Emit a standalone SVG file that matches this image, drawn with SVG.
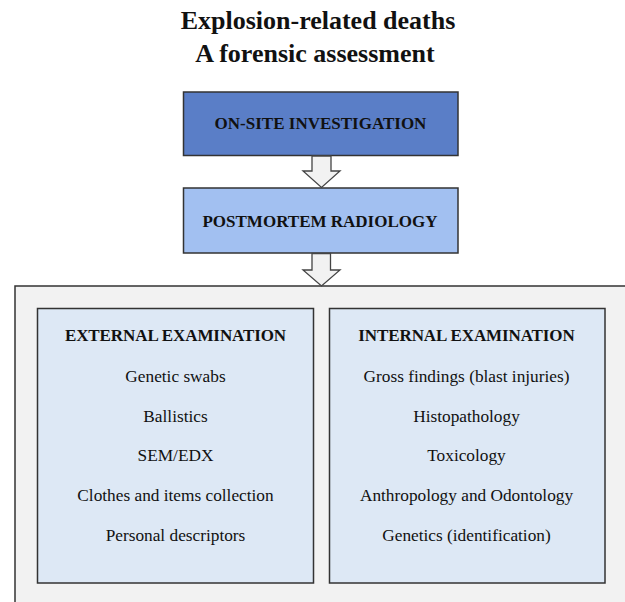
<svg xmlns="http://www.w3.org/2000/svg" width="625" height="602" viewBox="0 0 625 602">
<style>
text{font-family:"Liberation Serif","DejaVu Serif",serif;fill:#111;text-anchor:middle}
.title{font-size:26px;font-weight:bold}
.bt{font-size:17px;font-weight:bold}
.hd{font-size:17px;font-weight:bold;letter-spacing:-0.1px}
.it{font-size:17.3px;font-weight:normal}
.box{stroke:#333;stroke-width:1.5}
.arrow{fill:#f2f2f2;stroke:#444;stroke-width:1.3;stroke-linejoin:miter}
</style>
<rect width="625" height="602" fill="#ffffff"/>
<g id="title">
<text class="title" x="318" y="29">Explosion-related deaths</text>
<text class="title" x="315" y="62">A forensic assessment</text>
</g>
<g id="onsite">
<rect class="box" x="183.5" y="92" width="274.5" height="63.5" fill="#5a7ec7"/>
<text class="bt" x="320.5" y="129">ON-SITE INVESTIGATION</text>
</g>
<g id="radiology">
<rect class="box" x="183.5" y="188" width="274.5" height="65" fill="#a2c0f1"/>
<text class="bt" x="320" y="227">POSTMORTEM RADIOLOGY</text>
</g>
<g id="examination">
<rect class="box" x="15" y="286" width="620" height="330" fill="#f2f2f2"/>
</g>
<g id="external">
<rect class="box" x="37.5" y="308.5" width="276" height="274.5" fill="#dde8f5"/>
<text class="hd" x="175.5" y="341">EXTERNAL EXAMINATION</text>
<text class="it" x="175.5" y="382">Genetic swabs</text>
<text class="it" x="175.5" y="421.5">Ballistics</text>
<text class="it" x="175.5" y="461">SEM/EDX</text>
<text class="it" x="175.5" y="501">Clothes and items collection</text>
<text class="it" x="175.5" y="541">Personal descriptors</text>
</g>
<g id="internal">
<rect class="box" x="329.5" y="308.5" width="275.5" height="274.5" fill="#dde8f5"/>
<text class="hd" x="466.5" y="341">INTERNAL EXAMINATION</text>
<text class="it" x="466.5" y="382">Gross findings (blast injuries)</text>
<text class="it" x="466.5" y="421.5">Histopathology</text>
<text class="it" x="466.5" y="461">Toxicology</text>
<text class="it" x="466.5" y="501">Anthropology and Odontology</text>
<text class="it" x="466.5" y="541">Genetics (identification)</text>
</g>
<g id="connectors">
<path class="arrow" d="M312,156 L331,156 L331,171 L340,171 L321.5,187.5 L303,171 L312,171 Z"/>
<path class="arrow" d="M312,253.5 L330.5,253.5 L330.5,270 L340,270 L321.5,286 L303,270 L312,270 Z"/>
</g>
</svg>
